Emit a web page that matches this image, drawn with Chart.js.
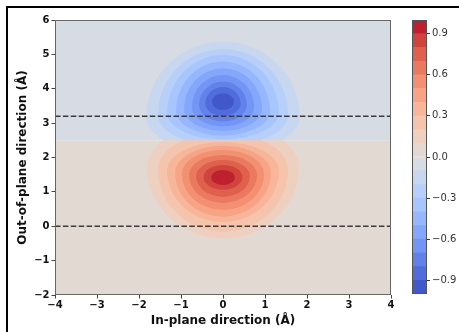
<!DOCTYPE html>
<html>
<head>
<meta charset="utf-8">
<script src="https://cdn.jsdelivr.net/npm/chart.js@4"></script>
<style>
  html, body { margin:0; padding:0; background:#fff; }
  #wrap { position:relative; width:459px; height:332px; overflow:hidden; }
  #main { position:absolute; left:0; top:0; }
  #cbar { position:absolute; left:400px; top:0; }
  #frame { position:absolute; left:6px; top:6px; width:470px; height:340px;
           border-top:2px solid #000; border-left:2px solid #000; pointer-events:none; }
</style>
</head>
<body>
<div id="wrap">
  <canvas id="main" width="459" height="332"></canvas>
  <canvas id="cbar" width="59" height="332"></canvas>
  <div id="frame"></div>
</div>
<script>
// ---------------- data ----------------
const xRange = [-4, 4];
const yRange = [-2, 6];
const interfaceY = 2.5;          // boundary between the two background bands
const dashY = [3.2, 0];          // dashed horizontal lines
const blobX = 0;                 // x of both lobes

// negative (blue) lobe: contour levels and ring geometry (data units)
const blueLevels    = [-0.1, -0.2, -0.3, -0.4, -0.5, -0.6, -0.7, -0.8, -0.9];
const blueHalfWidth = [1.83, 1.55, 1.33, 1.12, 0.93, 0.74, 0.57, 0.42, 0.26];
const blueTop       = [5.37, 5.16, 4.98, 4.79, 4.60, 4.40, 4.21, 4.05, 3.87];
const blueWidest    = [3.18, 3.24, 3.30, 3.35, 3.41, 3.47, 3.53, 3.57, 3.62];
const blueBottom    = [2.13, 2.34, 2.52, 2.64, 2.77, 2.90, 3.05, 3.21, 3.38];

// positive (red) lobe
const redLevels    = [0.1, 0.2, 0.3, 0.4, 0.5, 0.6, 0.7, 0.8, 0.9];
const redHalfWidth = [1.81, 1.55, 1.33, 1.14, 0.98, 0.81, 0.64, 0.46, 0.28];
const redTop       = [3.00, 2.71, 2.45, 2.34, 2.22, 2.07, 1.93, 1.78, 1.64];
const redWidest    = [1.70, 1.65, 1.61, 1.56, 1.52, 1.49, 1.46, 1.43, 1.42];
const redBottom    = [-0.35, -0.16, 0.13, 0.28, 0.47, 0.68, 0.86, 1.06, 1.20];

// colour bar
const cbLevels = [-1.0, -0.9, -0.8, -0.7, -0.6, -0.5, -0.4, -0.3, -0.2, -0.1, 0.0,
                  0.1, 0.2, 0.3, 0.4, 0.5, 0.6, 0.7, 0.8, 0.9, 1.0];
const cbTicks = [-0.9, -0.6, -0.3, 0.0, 0.3, 0.6, 0.9];
const xTitle = 'In-plane direction (Å)';
const yTitle = 'Out-of-plane direction (Å)';

// ---------------- colour map (coolwarm) ----------------
const CW = [[59,76,192],[68,90,204],[77,104,215],[87,117,225],[98,130,234],[108,142,241],
[119,154,247],[130,165,251],[141,176,254],[152,185,255],[163,194,255],[174,201,253],
[184,208,249],[194,213,244],[204,217,238],[213,219,230],[221,221,221],[229,216,209],
[236,211,197],[241,204,184],[245,196,172],[247,187,160],[247,177,148],[247,166,135],
[244,154,123],[241,141,111],[236,127,99],[229,112,88],[222,96,77],[213,80,66],
[203,62,56],[192,40,47],[180,4,38]];
function cmap(t){
  t = Math.max(0, Math.min(1, t));
  const f = t*(CW.length-1), i = Math.min(CW.length-2, Math.floor(f)), u = f-i;
  const c = CW[i].map((v,k)=>Math.round(v+(CW[i+1][k]-v)*u));
  return `rgb(${c[0]},${c[1]},${c[2]})`;
}
const vmin = cbLevels[0], vmax = cbLevels[cbLevels.length-1];
const colorForValue = v => cmap((v - vmin)/(vmax - vmin));
const step = 0.1;
// band colour for the region beyond a contour level (band mid value)
const ringColor = lvl => colorForValue(lvl + Math.sign(lvl)*step/2);

const minus = v => (v < 0 ? '\u2212' : '');

// ---------------- main plot ----------------
function ringPath(ctx, xs, ys, hw, top, widest, bottom){
  const X = xs.getPixelForValue(blobX);
  const rx = xs.getPixelForValue(blobX + hw) - X;
  const Yw = ys.getPixelForValue(widest);
  const rT = Yw - ys.getPixelForValue(top);
  const rB = ys.getPixelForValue(bottom) - Yw;
  ctx.beginPath();
  ctx.ellipse(X, Yw, rx, rT, 0, Math.PI, 2*Math.PI);
  ctx.ellipse(X, Yw, rx, rB, 0, 0, Math.PI);
  ctx.closePath();
}

const contourPlugin = {
  id: 'contours',
  beforeDatasetsDraw(chart){
    const {ctx, chartArea:a, scales:{x, y}} = chart;
    const yi = y.getPixelForValue(interfaceY);
    ctx.save();
    ctx.beginPath(); ctx.rect(a.left, a.top, a.width, a.height); ctx.clip();
    ctx.fillStyle = colorForValue(-step/2);
    ctx.fillRect(a.left, a.top, a.width, yi - a.top);
    ctx.fillStyle = colorForValue(step/2);
    ctx.fillRect(a.left, yi, a.width, a.bottom - yi);
    // blue lobe, above the interface
    ctx.save();
    ctx.beginPath(); ctx.rect(a.left, a.top, a.width, yi - a.top); ctx.clip();
    blueLevels.forEach((lv, i) => {
      ringPath(ctx, x, y, blueHalfWidth[i], blueTop[i], blueWidest[i], blueBottom[i]);
      ctx.fillStyle = ringColor(lv); ctx.fill();
    });
    ctx.restore();
    // red lobe, below the interface
    ctx.save();
    ctx.beginPath(); ctx.rect(a.left, yi, a.width, a.bottom - yi); ctx.clip();
    redLevels.forEach((lv, i) => {
      ringPath(ctx, x, y, redHalfWidth[i], redTop[i], redWidest[i], redBottom[i]);
      ctx.fillStyle = ringColor(lv); ctx.fill();
    });
    ctx.restore();
    ctx.restore();
  },
  afterDraw(chart){
    const {ctx, chartArea:a} = chart;
    ctx.save();
    ctx.strokeStyle = '#666'; ctx.lineWidth = 1;
    ctx.strokeRect(a.left+0.5, a.top+0.5, a.width-1, a.height-1);
    ctx.restore();
  }
};

const tickFont = {family:'DejaVu Sans', size:10, weight:'bold'};
const titleFont = {family:'DejaVu Sans', size:12, weight:'bold'};

new Chart(document.getElementById('main'), {
  type: 'scatter',
  data: {
    datasets: dashY.map(v => ({
      type: 'line',
      data: [{x:xRange[0], y:v}, {x:xRange[1], y:v}],
      borderColor: '#3a3a3a', borderWidth: 1.5, borderDash: [5.5, 2.4],
      pointRadius: 0, fill: false
    }))
  },
  options: {
    responsive: false, animation: false, devicePixelRatio: 1,
    layout: { padding: {left:0, top:20, right:68, bottom:0} },
    plugins: { legend:{display:false}, tooltip:{enabled:false} },
    scales: {
      x: {
        type:'linear', min:xRange[0], max:xRange[1],
        afterFit(s){ s.height = 37; },
        ticks: { stepSize:1, font:tickFont, color:'#111', padding:1,
                 callback: v => minus(v) + Math.abs(v) },
        grid: { drawOnChartArea:false, drawTicks:true, tickLength:3.5, color:'#444' },
        border: { display:false },
        title: { display:true, text:xTitle, font:titleFont, color:'#111', padding:{top:0,bottom:4.4} }
      },
      y: {
        type:'linear', min:yRange[0], max:yRange[1],
        afterFit(s){ s.width = 55; },
        ticks: { stepSize:1, font:tickFont, color:'#111', padding:2,
                 callback: v => minus(v) + Math.abs(v) },
        grid: { drawOnChartArea:false, drawTicks:true, tickLength:3.5, color:'#444' },
        border: { display:false },
        title: { display:true, text:yTitle, font:titleFont, color:'#111', padding:{top:15.4,bottom:0} }
      }
    }
  },
  plugins: [contourPlugin]
});

// ---------------- colour bar ----------------
const cbOutline = {
  id:'cbOutline',
  afterDraw(chart){
    const {ctx, chartArea:a} = chart;
    ctx.save(); ctx.strokeStyle = '#555'; ctx.lineWidth = 1;
    ctx.strokeRect(a.left+0.5, a.top+0.5, a.width-1, a.height-1);
    ctx.restore();
  }
};
const bands = cbLevels.slice(0, -1).map((lo, i) => [lo, cbLevels[i+1]]);
new Chart(document.getElementById('cbar'), {
  type: 'bar',
  data: {
    labels: [''],
    datasets: bands.map(b => ({
      data: [b], backgroundColor: colorForValue((b[0]+b[1])/2),
      borderWidth: 0, grouped: false, barPercentage: 1, categoryPercentage: 1
    }))
  },
  options: {
    responsive:false, animation:false, devicePixelRatio:1,
    layout: { padding:{left:12, top:20, right:0, bottom:38} },
    plugins: { legend:{display:false}, tooltip:{enabled:false} },
    scales: {
      x: { display:false },
      y: {
        position:'right', min:vmin, max:vmax,
        afterFit(s){ s.width = 32; },
        afterBuildTicks(s){ s.ticks = cbTicks.map(v => ({value:v})); },
        ticks: { font:{family:'DejaVu Sans', size:10}, color:'#333', padding:2,
                 callback: v => minus(v) + Math.abs(v).toFixed(1) },
        grid: { drawOnChartArea:false, drawTicks:true, tickLength:3, color:'#333' },
        border: { display:false }
      }
    }
  },
  plugins: [cbOutline]
});
</script>
</body>
</html>
